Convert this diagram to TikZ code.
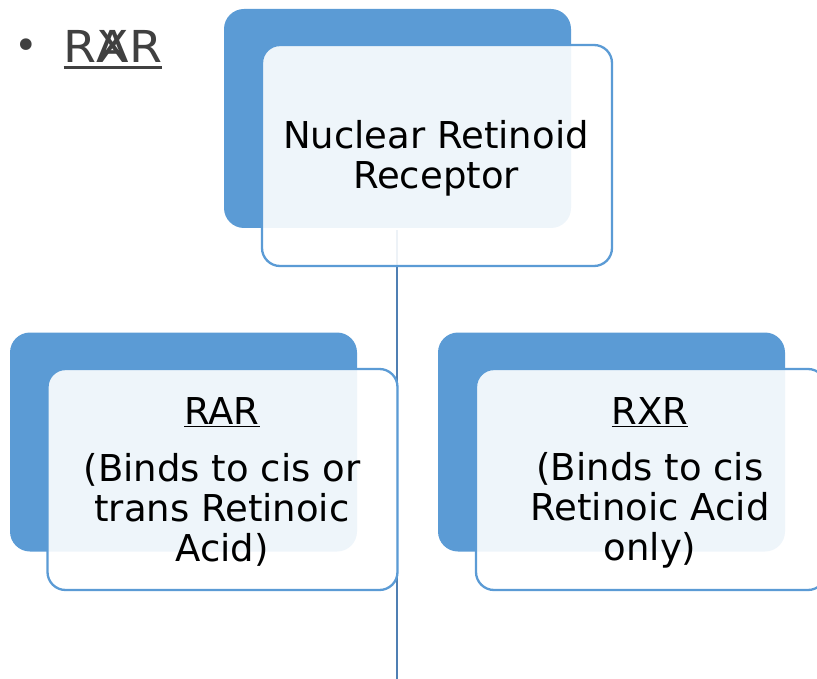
\documentclass[tikz,border=0pt]{standalone}
\usepackage{fontspec}
\setmainfont{DejaVu Sans}
\begin{document}
\begin{tikzpicture}[x=1pt,y=-1pt,
  backbox/.style={fill=boxblue, draw=none, rounded corners=20pt, minimum width=347pt, minimum height=219pt, inner sep=0pt},
  frontbox/.style={fill=white, fill opacity=0.9, draw=boxblue, line width=2.3pt, rounded corners=18pt, minimum width=350pt, minimum height=221pt, inner sep=0pt},
  boxtext/.style={align=center, font=\fontsize{37}{40}\selectfont, text=black, inner sep=0pt},
  titletext/.style={text=titlegray, font=\fontsize{44}{48}\selectfont, inner sep=0pt, xscale=1.08},
  conn/.style={draw=lineblue, line width=2.6pt}]
\definecolor{boxblue}{HTML}{5B9BD5}
\definecolor{lineblue}{HTML}{4F7FB3}
\definecolor{titlegray}{HTML}{404040}
\useasboundingbox (0,0) rectangle (817,679);
\clip (0,0) rectangle (817,679);
% back boxes
\node[backbox] (topback) at (397.5,118.5) {};
\node[backbox] (leftback) at (183.5,442) {};
\node[backbox] (rightback) at (611.5,442) {};
% connector
\coordinate (linetop) at (397,230);
\coordinate (linebot) at (397,679);
\draw[conn] (linetop) -- (linebot);
% front boxes
\node[frontbox] (topfront) at (437,155.5) {};
\node[frontbox] (leftfront) at (222.5,479.5) {};
\node[frontbox] (rightfront) at (651,479.5) {};
% texts
\node[boxtext] (toptext) at (436,158) {Nuclear Retinoid\\Receptor};
\node[boxtext] (rartitle) at (222,412) {\underline{RAR}};
\node[boxtext] (rarbody) at (222,510) {(Binds to cis or\\trans Retinoic\\Acid)};
\node[boxtext] (rxrtitle) at (650,412) {\underline{RXR}};
\node[boxtext] (rxrbody) at (650,510) {(Binds to cis\\Retinoic Acid\\only)};
% title bullet
\node[text=titlegray, font=\fontsize{40}{44}\selectfont, inner sep=0pt] (bullet) at (26,49) {•};
\node[titletext, anchor=base] (title) at (113,63) {R\ooalign{A\cr\hidewidth X\hidewidth}R};
\draw[titlegray, line width=3pt] ([yshift=-4.5pt]title.base west) -- ([yshift=-4.5pt]title.base east);
\end{tikzpicture}
\end{document}
